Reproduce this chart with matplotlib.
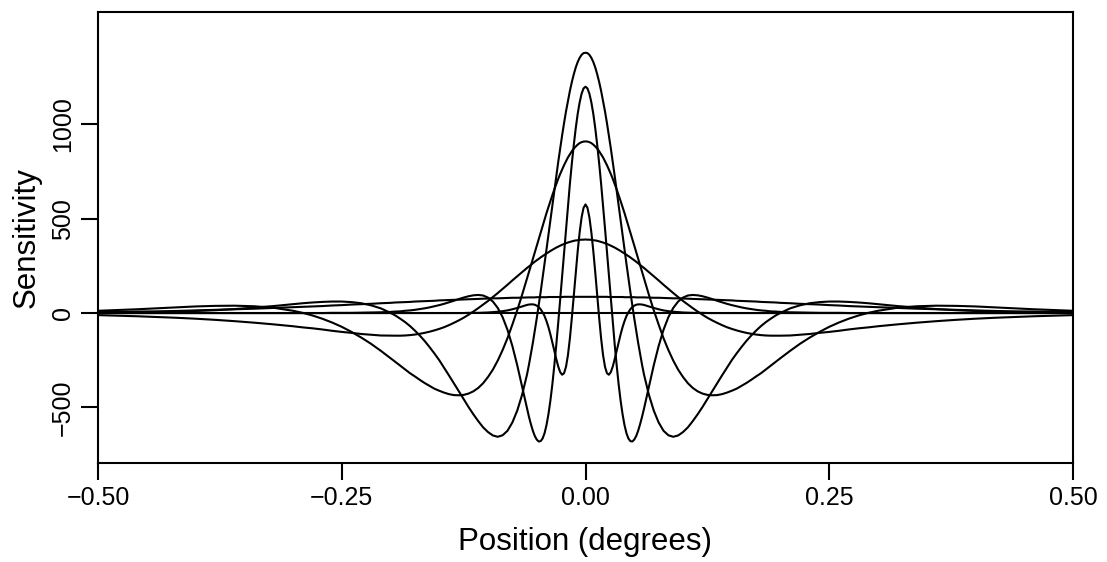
import numpy as np
import matplotlib
matplotlib.use("Agg")
import matplotlib.pyplot as plt

plt.rcParams["font.family"] = ["Liberation Sans", "DejaVu Sans"]

# positions (degrees) for the right half; every profile is symmetric about 0
x_half = [0.000, 0.002, 0.004, 0.006, 0.008, 0.010, 0.012, 0.014, 0.016, 0.018,
          0.020, 0.022, 0.024, 0.026, 0.028, 0.030, 0.032, 0.034, 0.036, 0.038,
          0.040, 0.042, 0.044, 0.046, 0.048, 0.050, 0.052, 0.054, 0.056, 0.058, 0.060,
          0.065, 0.070, 0.075, 0.080, 0.085, 0.090, 0.095, 0.100,
          0.105, 0.110, 0.115, 0.120, 0.125, 0.130, 0.135, 0.140, 0.145, 0.150,
          0.155, 0.160, 0.165, 0.170, 0.175, 0.180, 0.185, 0.190, 0.195, 0.200,
          0.21, 0.22, 0.23, 0.24, 0.25, 0.26, 0.27, 0.28, 0.29, 0.30,
          0.32, 0.34, 0.36, 0.38, 0.40, 0.42, 0.44, 0.46, 0.48, 0.50]

# sensitivity, one list per mechanism
sens_16 = [576, 558, 507, 428, 329, 216, 95, -25, -134, -223,
           -285, -319, -327, -313, -283, -243, -199, -155, -113, -75,
           -43, -16, 4, 20, 32, 39, 44, 46, 46, 45, 43,
           35, 27, 20, 14, 10, 7, 5, 3,
           2, 1, 1, 1, 0, 0, 0, 0, 0, 0, 0, 0, 0, 0, 0, 0, 0, 0, 0, 0,
           0, 0, 0, 0, 0, 0, 0, 0, 0, 0,
           0, 0, 0, 0, 0, 0, 0, 0, 0, 0]
sens_8 = [1200, 1191, 1163, 1117, 1056, 980, 892, 794, 686, 570,
          449, 324, 197, 71, -53, -170, -279, -378, -464, -536,
          -594, -637, -665, -679, -681, -671, -652, -624, -589, -550, -507,
          -391, -277, -175, -89, -22, 27, 61, 82,
          93, 96, 94, 89, 82, 74, 65, 57, 49, 42, 36, 30, 25, 21, 17, 14, 12, 9, 8, 6,
          4, 3, 2, 1, 1, 1, 0, 0, 0, 0,
          0, 0, 0, 0, 0, 0, 0, 0, 0, 0]
sens_4 = [1380, 1378, 1369, 1353, 1331, 1302, 1266, 1225, 1178, 1125,
          1069, 1007, 941, 872, 800, 725, 649, 571, 493, 415,
          338, 261, 186, 112, 41, -28, -94, -158, -217, -274, -326,
          -433, -517, -580, -624, -648, -656, -649, -631,
          -606, -573, -537, -498, -456, -414, -372, -331, -290, -250,
          -214, -180, -148, -119, -93, -69, -48, -30, -13, 1,
          25, 41, 52, 58, 61, 61, 59, 56, 52, 47,
          37, 29, 21, 15, 11, 7, 5, 3, 2, 1]
sens_2_8 = [910, 909, 906, 901, 893, 883, 872, 858, 842, 825,
            805, 784, 761, 737, 711, 683, 655, 625, 594, 562,
            530, 496, 462, 428, 393, 358, 323, 287, 252, 217, 182,
            97, 15, -61, -133, -196, -252, -300, -339,
            -372, -397, -415, -427, -434, -436, -435, -430, -422, -412,
            -401, -386, -371, -354, -336, -319, -299, -279, -259, -239,
            -200, -163, -130, -100, -73, -50, -30, -13, 1, 12,
            28, 36, 39, 38, 35, 30, 25, 20, 16, 12]
sens_1_7 = [390, 389, 389, 388, 386, 385, 383, 380, 377, 374,
            370, 366, 362, 357, 352, 347, 341, 335, 329, 322,
            316, 309, 302, 295, 287, 280, 272, 264, 255, 247, 239,
            217, 195, 173, 150, 128, 106, 85, 64,
            45, 26, 8, -9, -25, -39, -52, -64, -75, -84,
            -92, -99, -105, -110, -114, -117, -119, -120, -120, -120,
            -119, -115, -111, -105, -100, -94, -87, -81, -76, -70,
            -60, -51, -43, -36, -30, -25, -21, -17, -14, -11]
sens_0_8 = [86, 86, 86, 86, 86, 86, 86, 86, 86, 86,
            86, 86, 85, 85, 85, 85, 85, 85, 85, 85,
            84, 84, 84, 84, 84, 84, 83, 83, 83, 83, 83,
            82, 81, 81, 80, 79, 78, 78, 77,
            76, 75, 74, 73, 72, 71, 70, 69, 68, 67,
            65, 64, 63, 62, 61, 59, 58, 57, 56, 54,
            52, 49, 47, 45, 42, 40, 37, 35, 33, 31,
            27, 23, 20, 17, 14, 11, 9, 8, 6, 5]

x_ticks = [-0.5, -0.25, 0, 0.25, 0.5]
x_labels = ["\u22120.50", "\u22120.25", "0.00", "0.25", "0.50"]
y_ticks = [-500, 0, 500, 1000]
y_labels = ["\u2212500", "0", "500", "1000"]

xh = np.array(x_half)
x_full = np.concatenate([-xh[::-1], xh[1:]])

fig = plt.figure(figsize=(11.07, 5.62), dpi=100)
ax = fig.add_axes([98 / 1107, 1 - 463 / 562, 975 / 1107, 451 / 562])

for s in (sens_0_8, sens_1_7, sens_2_8, sens_4, sens_8, sens_16):
    s = np.array(s, dtype=float)
    ax.plot(x_full, np.concatenate([s[::-1], s[1:]]), color="black", lw=1.5)
ax.axhline(0, color="black", lw=1.5)

ax.set_xlim(-0.5, 0.5)
ax.set_ylim(-795, 1596)
ax.set_xticks(x_ticks, x_labels)
ax.set_yticks(y_ticks, y_labels)
for lab in ax.get_yticklabels():
    lab.set_rotation(90)
    lab.set_va("center")
ax.tick_params(length=12.5, width=1.5, labelsize=18, pad=4, color="black")
for sp in ax.spines.values():
    sp.set_linewidth(1.5)

ax.set_xlabel("Position (degrees)", fontsize=22.5, labelpad=12)
ax.set_ylabel("Sensitivity", fontsize=22.5, labelpad=7)

fig.savefig("out.png", dpi=100)
